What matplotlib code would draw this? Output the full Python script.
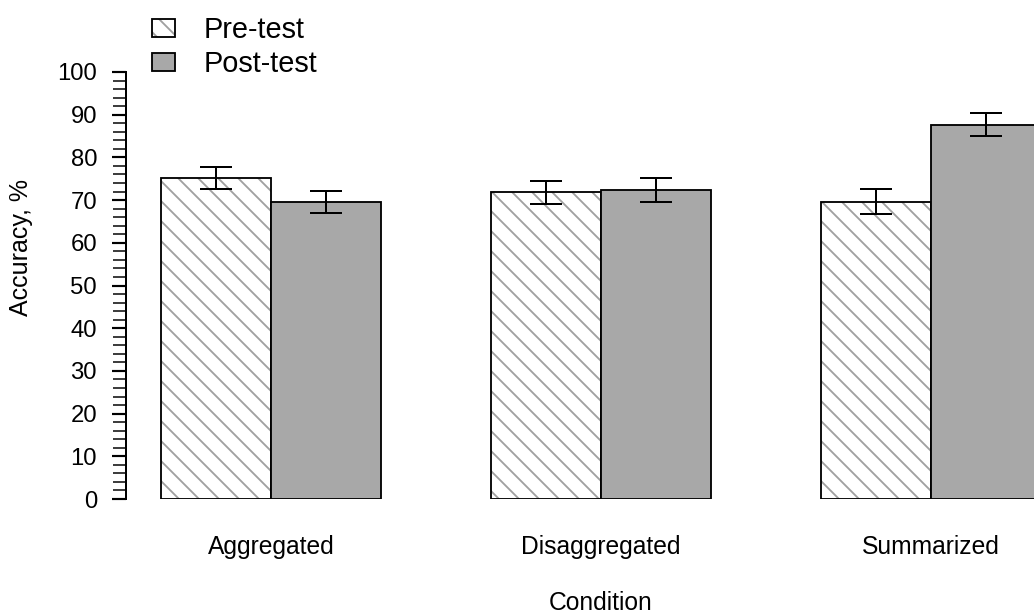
import matplotlib
matplotlib.use("Agg")
import matplotlib.pyplot as plt
import numpy as np
from matplotlib.patches import Patch

plt.rcParams['font.family'] = ['Liberation Sans', 'DejaVu Sans']
plt.rcParams['hatch.linewidth'] = 1.1

# --- dados ---
conditions = ["Aggregated", "Disaggregated", "Summarized"]
pre_test = [75.2, 71.8, 69.6]
pre_err = [2.5, 2.7, 2.9]
post_test = [69.6, 72.4, 87.6]
post_err = [2.6, 2.8, 2.7]

DPI = 120
fig = plt.figure(figsize=(1034 / DPI, 616 / DPI), dpi=DPI)
W, H = 1034, 616

# eixo posicionado em pixels (o gráfico original é cortado à direita)
left_px, right_px, top_px, bottom_px = 126, 1076, 72, 499
ax = fig.add_axes([left_px / W, (H - bottom_px) / H,
                   (right_px - left_px) / W, (bottom_px - top_px) / H])

centers = np.array([2.0, 5.0, 8.0])
pre_x = centers - 0.5
post_x = centers + 0.5

hatch_gray = "#a0a0a0"
post_gray = "#a8a8a8"
HATCH = "\\\\"

# barras pré-teste: hachura cinza + contorno preto
ax.bar(pre_x, pre_test, width=1.0, color="white", edgecolor=hatch_gray,
       hatch=HATCH, linewidth=0, zorder=2)
ax.bar(pre_x, pre_test, width=1.0, fill=False, edgecolor="black",
       linewidth=1.1, zorder=3)
ax.bar(post_x, post_test, width=1.0, color=post_gray, edgecolor="black",
       linewidth=1.1, zorder=3)

ax.errorbar(pre_x, pre_test, yerr=pre_err, fmt="none", ecolor="black",
            elinewidth=1.2, capsize=9.5, capthick=1.2, zorder=4, clip_on=False)
ax.errorbar(post_x, post_test, yerr=post_err, fmt="none", ecolor="black",
            elinewidth=1.2, capsize=9.5, capthick=1.2, zorder=4, clip_on=False)

# 1 unidade = 110 px, x=1 em 161 px
ax.set_xlim(1 + (left_px - 161) / 110, 1 + (right_px - 161) / 110)
ax.set_ylim(0, 100)

for side in ["top", "right", "bottom"]:
    ax.spines[side].set_visible(False)
ax.spines["left"].set_linewidth(1.2)

ax.set_yticks(np.arange(0, 101, 10))
ax.set_yticks(np.arange(0, 101, 2), minor=True)
ax.tick_params(axis="y", which="major", length=8.2, width=1.3, pad=9.2,
               labelsize=14.3)
ax.tick_params(axis="y", which="minor", length=7.8, width=0.9)

ax.set_xticks(centers)
ax.set_xticklabels(conditions)
ax.tick_params(axis="x", length=0, pad=21.6, labelsize=14.8)

ax.set_xlabel("Condition", fontsize=14.8, labelpad=19)
ax.set_ylabel("Accuracy, %", fontsize=15)
ax.yaxis.set_label_coords((33 - left_px) / (right_px - left_px),
                          (bottom_px - 247) / (bottom_px - top_px))

# legenda
pre_h = (Patch(facecolor="white", edgecolor=hatch_gray, hatch=HATCH, linewidth=0),
         Patch(fill=False, edgecolor="black", linewidth=1.1))
post_h = Patch(facecolor=post_gray, edgecolor="black", linewidth=1.1)
fig.legend([pre_h, post_h], ["Pre-test", "Post-test"], loc="upper left",
           bbox_to_anchor=(152 / W, 1 - 16 / H), bbox_transform=fig.transFigure,
           frameon=False, fontsize=17.3, handlelength=0.8, handleheight=0.56,
           handletextpad=1.0, labelspacing=0.22, borderpad=0, borderaxespad=0)

fig.savefig("out.png", dpi=DPI)
